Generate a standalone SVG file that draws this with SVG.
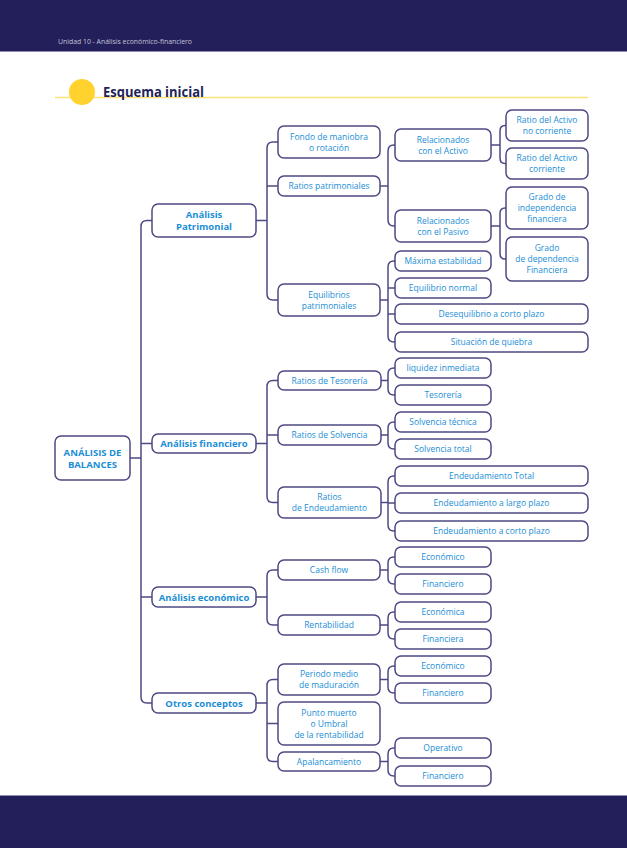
<svg xmlns="http://www.w3.org/2000/svg" width="627" height="848" viewBox="0 0 627 848">
<style>
.n rect{fill:#fff;stroke:#4d4984;stroke-width:1.5}
.n text{font-family:"Open Sans","Liberation Sans",sans-serif;font-size:8.5px;fill:#1b8ed6;text-anchor:middle}
.b text{font-weight:bold;font-size:9.5px}
#connectors path{fill:none;stroke:#4d4984;stroke-width:1.5}
</style>
<rect x="0" y="0" width="627" height="51" fill="#221f5b"/>
<line x1="0" y1="51.5" x2="627" y2="51.5" stroke="#8f8cb5" stroke-width="1"/>
<text x="58" y="43.5" font-family="Open Sans,Liberation Sans,sans-serif" font-size="8" fill="#c4c3d3" textLength="134" lengthAdjust="spacingAndGlyphs">Unidad 10 - Análisis económico-financiero</text>
<rect x="0" y="796" width="627" height="52" fill="#221f5b"/>
<line x1="0" y1="795.5" x2="627" y2="795.5" stroke="#8f8cb5" stroke-width="1"/>
<g id="title">
<line x1="55" y1="97.5" x2="588" y2="97.5" stroke="#fde27a" stroke-width="1.5"/>
<circle cx="82" cy="92" r="13" fill="#ffd22e"/>
<text x="103" y="97" font-family="Open Sans,Liberation Sans,sans-serif" font-size="14" font-weight="bold" fill="#221f5b" textLength="101" lengthAdjust="spacingAndGlyphs">Esquema inicial</text>
</g>
<g id="connectors">
<path d="M130 458H141M152 220.5H147Q141 220.5 141 226.5V697Q141 703 147 703H152M141 443.5H152M141 597H152"/>
<path d="M256 220.5H267M278 142H273Q267 142 267 148V294Q267 300 273 300H278M267 186H278"/>
<path d="M256 443.5H267M278 380.5H273Q267 380.5 267 386.5V496.5Q267 502.5 273 502.5H278M267 435H278"/>
<path d="M256 597H267M278 570H273Q267 570 267 576V619Q267 625 273 625H278"/>
<path d="M256 703H267M278 679.5H273Q267 679.5 267 685.5V755.5Q267 761.5 273 761.5H278M267 723.5H278"/>
<path d="M380 186H388M395 145H394Q388 145 388 151V220Q388 226 394 226H395"/>
<path d="M380 300H388M395 261H394Q388 261 388 267V336Q388 342 394 342H395M388 288H395M388 314H395"/>
<path d="M491 145H500M506 125.5H505Q500 125.5 500 131V158Q500 163.5 505 163.5H506"/>
<path d="M491 226H500M506 208H505Q500 208 500 213.5V253.5Q500 259 505 259H506"/>
<path d="M381 380.5H388M395 368H394Q388 368 388 374V389Q388 395 394 395H395"/>
<path d="M381 435H388M395 422H394Q388 422 388 428V443Q388 449 394 449H395"/>
<path d="M381 502.5H388M395 476H394Q388 476 388 482V525Q388 531 394 531H395M388 503H395"/>
<path d="M380 570H388M395 557H394Q388 557 388 563V578Q388 584 394 584H395"/>
<path d="M380 625H388M395 612H394Q388 612 388 618V633Q388 639 394 639H395"/>
<path d="M380 679.5H388M395 666H394Q388 666 388 672V687Q388 693 394 693H395"/>
<path d="M380 761.5H388M395 748H394Q388 748 388 754V770Q388 776 394 776H395"/>
</g>
<g id="root" class="n b"><rect x="55" y="436" width="75" height="44" rx="6"/><text x="92.5" y="455.5">ANÁLISIS DE</text><text x="92.5" y="467.5">BALANCES</text></g>
<g id="patrimonial" class="n b"><rect x="152" y="204" width="104" height="33" rx="6"/><text x="204" y="217.5">Análisis</text><text x="204" y="229.5">Patrimonial</text></g>
<g id="financiero" class="n b"><rect x="152" y="434" width="104" height="19" rx="6"/><text x="204" y="447">Análisis financiero</text></g>
<g id="economico" class="n b"><rect x="152" y="587" width="104" height="20" rx="6"/><text x="204" y="600.5">Análisis económico</text></g>
<g id="otros" class="n b"><rect x="152" y="693" width="104" height="20" rx="6"/><text x="204" y="706.5">Otros conceptos</text></g>

<g id="fondo" class="n"><rect x="278" y="126" width="102" height="32" rx="6"/><text x="329" y="139.5">Fondo de maniobra</text><text x="329" y="150.5">o rotación</text></g>
<g id="ratiospat" class="n"><rect x="278" y="176" width="102" height="20" rx="6"/><text x="329" y="189">Ratios patrimoniales</text></g>
<g id="equilibrios" class="n"><rect x="278" y="284" width="102" height="32" rx="6"/><text x="329" y="297.5">Equilibrios</text><text x="329" y="308.5">patrimoniales</text></g>
<g id="relactivo" class="n"><rect x="395" y="129" width="96" height="32" rx="6"/><text x="443" y="142.5">Relacionados</text><text x="443" y="153.5">con el Activo</text></g>
<g id="relpasivo" class="n"><rect x="395" y="210" width="96" height="32" rx="6"/><text x="443" y="223.5">Relacionados</text><text x="443" y="234.5">con el Pasivo</text></g>
<g id="ranc" class="n"><rect x="506" y="110" width="82" height="31" rx="6"/><text x="547" y="123">Ratio del Activo</text><text x="547" y="134">no corriente</text></g>
<g id="rac" class="n"><rect x="506" y="148" width="82" height="31" rx="6"/><text x="547" y="161">Ratio del Activo</text><text x="547" y="172">corriente</text></g>
<g id="gindep" class="n"><rect x="506" y="187" width="82" height="42" rx="6"/><text x="547" y="200">Grado de</text><text x="547" y="211">independencia</text><text x="547" y="222">financiera</text></g>
<g id="gdep" class="n"><rect x="506" y="237" width="82" height="44" rx="6"/><text x="547" y="251">Grado</text><text x="547" y="262">de dependencia</text><text x="547" y="273">Financiera</text></g>
<g id="maxima" class="n"><rect x="395" y="251" width="96" height="20" rx="6"/><text x="443" y="264">Máxima estabilidad</text></g>
<g id="eqnormal" class="n"><rect x="395" y="278" width="96" height="20" rx="6"/><text x="443" y="291">Equilibrio normal</text></g>
<g id="deseq" class="n"><rect x="395" y="304" width="193" height="20" rx="6"/><text x="491.5" y="317">Desequilibrio a corto plazo</text></g>
<g id="quiebra" class="n"><rect x="395" y="332" width="193" height="20" rx="6"/><text x="491.5" y="345">Situación de quiebra</text></g>

<g id="rtesoreria" class="n"><rect x="278" y="371" width="103" height="19" rx="6"/><text x="329.5" y="383.5">Ratios de Tesorería</text></g>
<g id="rsolvencia" class="n"><rect x="278" y="425" width="103" height="20" rx="6"/><text x="329.5" y="438">Ratios de Solvencia</text></g>
<g id="rendeuda" class="n"><rect x="278" y="487" width="103" height="31" rx="6"/><text x="329.5" y="500">Ratios</text><text x="329.5" y="511">de Endeudamiento</text></g>
<g id="liquidez" class="n"><rect x="395" y="358" width="96" height="20" rx="6"/><text x="443" y="371">liquidez inmediata</text></g>
<g id="tesoreria" class="n"><rect x="395" y="385" width="96" height="20" rx="6"/><text x="443" y="398">Tesorería</text></g>
<g id="stecnica" class="n"><rect x="395" y="412" width="96" height="20" rx="6"/><text x="443" y="425">Solvencia técnica</text></g>
<g id="stotal" class="n"><rect x="395" y="439" width="96" height="20" rx="6"/><text x="443" y="452">Solvencia total</text></g>
<g id="etotal" class="n"><rect x="395" y="466" width="193" height="20" rx="6"/><text x="491.5" y="479">Endeudamiento Total</text></g>
<g id="elargo" class="n"><rect x="395" y="493" width="193" height="20" rx="6"/><text x="491.5" y="506">Endeudamiento a largo plazo</text></g>
<g id="ecorto" class="n"><rect x="395" y="521" width="193" height="20" rx="6"/><text x="491.5" y="534">Endeudamiento a corto plazo</text></g>

<g id="cashflow" class="n"><rect x="278" y="560" width="102" height="20" rx="6"/><text x="329" y="573">Cash flow</text></g>
<g id="rentab" class="n"><rect x="278" y="615" width="102" height="20" rx="6"/><text x="329" y="628">Rentabilidad</text></g>
<g id="cf-eco" class="n"><rect x="395" y="547" width="96" height="20" rx="6"/><text x="443" y="560">Económico</text></g>
<g id="cf-fin" class="n"><rect x="395" y="574" width="96" height="20" rx="6"/><text x="443" y="587">Financiero</text></g>
<g id="r-eco" class="n"><rect x="395" y="602" width="96" height="20" rx="6"/><text x="443" y="615">Económica</text></g>
<g id="r-fin" class="n"><rect x="395" y="629" width="96" height="20" rx="6"/><text x="443" y="642">Financiera</text></g>

<g id="periodo" class="n"><rect x="278" y="664" width="102" height="31" rx="6"/><text x="329" y="677">Periodo medio</text><text x="329" y="688">de maduración</text></g>
<g id="punto" class="n"><rect x="278" y="702" width="102" height="43" rx="6"/><text x="329" y="715.5">Punto muerto</text><text x="329" y="726.5">o Umbral</text><text x="329" y="737.5">de la rentabilidad</text></g>
<g id="apalanca" class="n"><rect x="278" y="752" width="102" height="19" rx="6"/><text x="329" y="764.5">Apalancamiento</text></g>
<g id="p-eco" class="n"><rect x="395" y="656" width="96" height="20" rx="6"/><text x="443" y="669">Económico</text></g>
<g id="p-fin" class="n"><rect x="395" y="683" width="96" height="20" rx="6"/><text x="443" y="696">Financiero</text></g>
<g id="a-op" class="n"><rect x="395" y="738" width="96" height="20" rx="6"/><text x="443" y="751">Operativo</text></g>
<g id="a-fin" class="n"><rect x="395" y="766" width="96" height="20" rx="6"/><text x="443" y="779">Financiero</text></g>
</svg>
